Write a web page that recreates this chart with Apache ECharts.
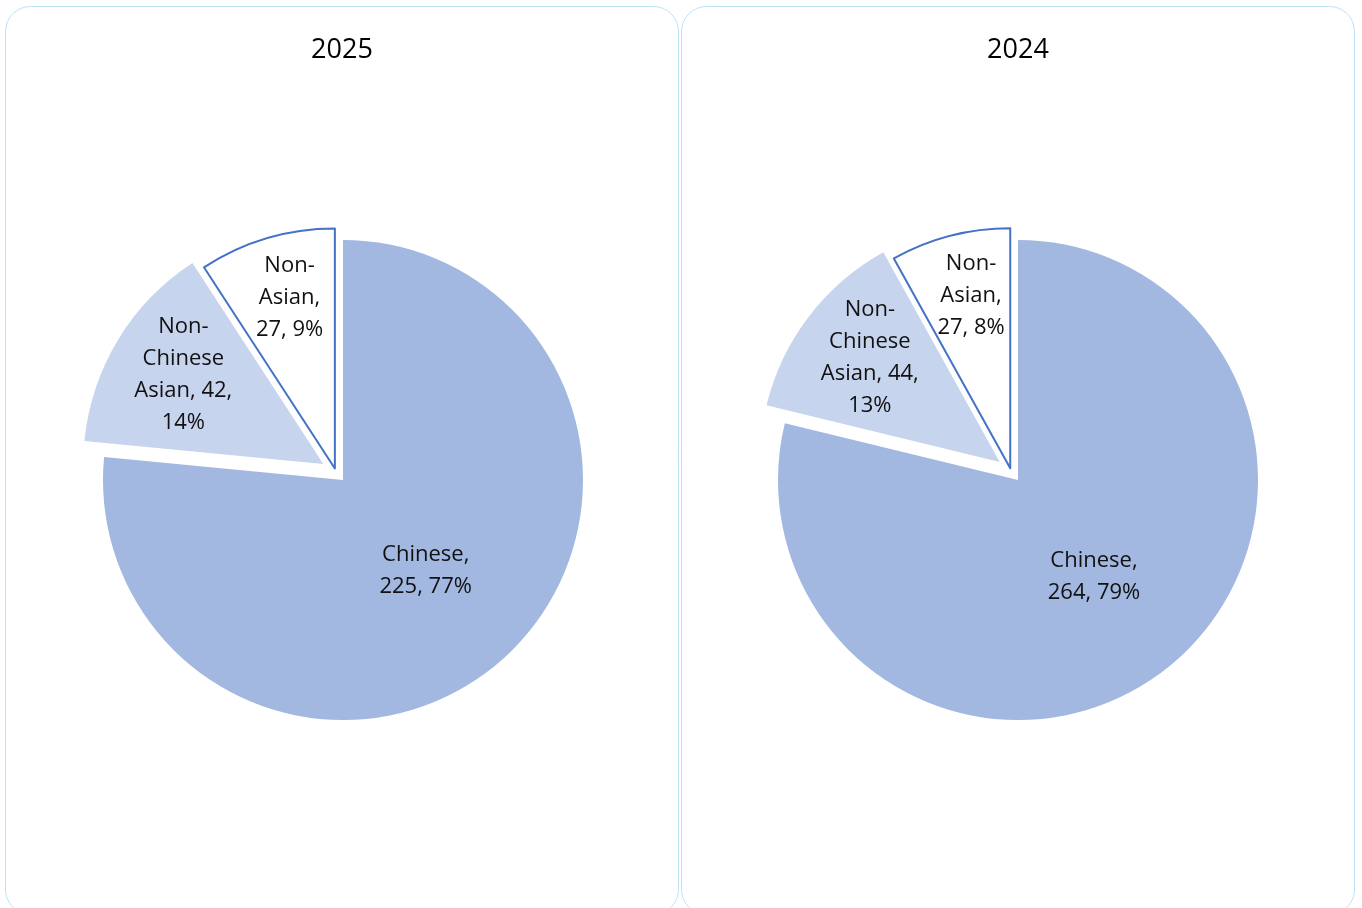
<!DOCTYPE html>
<html>
<head>
<meta charset="utf-8">
<script src="https://cdn.jsdelivr.net/npm/echarts@6/dist/echarts.min.js"></script>
<style>
html,body{margin:0;padding:0;background:#fff;}
#chart{width:1362px;height:908px;}
</style>
</head>
<body>
<div id="chart"></div>
<script>
// ---- data ----
var categories = ['Chinese', 'Non-Chinese Asian', 'Non-Asian'];
var labelNames = ['Chinese', 'Non-\nChinese\nAsian', 'Non-\nAsian'];
var sepNameValue = [',\n', ', ', ',\n'];
var sepValuePct = [', ', ',\n', ', '];
var years = ['2025', '2024'];
var values2025 = [225, 42, 27];
var values2024 = [264, 44, 27];

var colors = ['#A2B8E0', '#C6D4ED', '#FFFFFF'];
var borderBlue = '#4472C4';
var FONT = '"Open Sans", "Noto Sans", sans-serif';

var chart = echarts.init(document.getElementById('chart'), null, {renderer: 'canvas'});

function buildData(values, visibleIdx, withLabel) {
  return values.map(function (v, i) {
    var vis = (visibleIdx.indexOf(i) >= 0);
    var item = {
      name: categories[i],
      value: v,
      itemStyle: vis ? {
        color: colors[i],
        borderColor: i === 2 ? borderBlue : colors[i],
        borderWidth: i === 2 ? 2 : 0
      } : {color: 'rgba(0,0,0,0)', borderWidth: 0},
      label: {show: withLabel && vis}
    };
    if (vis && i !== 0) item.selected = true;
    return item;
  });
}

function labelFormatter(p) {
  var i = categories.indexOf(p.name);
  return labelNames[i] + sepNameValue[i] + p.value + sepValuePct[i] + Math.round(p.percent) + '%';
}

var labelStyle = {
  position: 'inside',
  formatter: labelFormatter,
  color: '#111',
  fontFamily: FONT,
  fontSize: 22,
  lineHeight: 32,
  align: 'center'
};

function pieSeries(values, center, visibleIdx, offset, radius, withLabel) {
  return {
    type: 'pie',
    center: center,
    radius: radius,
    startAngle: 90,
    clockwise: true,
    silent: true,
    animation: false,
    avoidLabelOverlap: false,
    selectedMode: 'multiple',
    selectedOffset: offset,
    label: labelStyle,
    labelLine: {show: false},
    emphasis: {disabled: true},
    data: buildData(values, visibleIdx, withLabel)
  };
}

function labelSeries(values, center, idx) {
  var s = pieSeries(values, center, [idx], 0, [0.57 * R, R], true);
  s.data.forEach(function (d) {
    d.selected = false;
    d.itemStyle = {color: 'rgba(0,0,0,0)', borderWidth: 0};
  });
  return s;
}

var R = 240;
var CY = 480;
var series = [];
[[values2025, 343], [values2024, 1018]].forEach(function (cfg) {
  var vals = cfg[0], cx = cfg[1];
  series.push(pieSeries(vals, [cx, CY], [0], 0, [0, R], true));             // Chinese
  series.push(pieSeries(vals, [cx, CY - 4], [1], 23, [0, R], false));       // Non-Chinese Asian
  series.push(pieSeries(vals, [cx - 5, CY - 1], [2], 11, [0, R], false));   // Non-Asian
  series.push(labelSeries(vals, [cx + 4, CY - 6], 1));                      // label NCA
  series.push(labelSeries(vals, [cx + 1, CY + 1], 2));                      // label NA
});

chart.setOption({
  backgroundColor: '#ffffff',
  animation: false,
  title: [
    {text: years[0], left: 342, top: 37, padding: 0, textAlign: 'center',
     textStyle: {fontFamily: FONT, fontSize: 27, fontWeight: 'normal', color: '#000'}},
    {text: years[1], left: 1018, top: 37, padding: 0, textAlign: 'center',
     textStyle: {fontFamily: FONT, fontSize: 27, fontWeight: 'normal', color: '#000'}}
  ],
  graphic: [
    {type: 'rect', z: -10, silent: true,
     shape: {x: 5.5, y: 6.5, width: 673, height: 908, r: 25},
     style: {fill: 'none', stroke: '#BCE3F8', lineWidth: 1}},
    {type: 'rect', z: -10, silent: true,
     shape: {x: 681.5, y: 6.5, width: 673, height: 908, r: 25},
     style: {fill: 'none', stroke: '#BCE3F8', lineWidth: 1}}
  ],
  series: series
});
</script>
</body>
</html>
